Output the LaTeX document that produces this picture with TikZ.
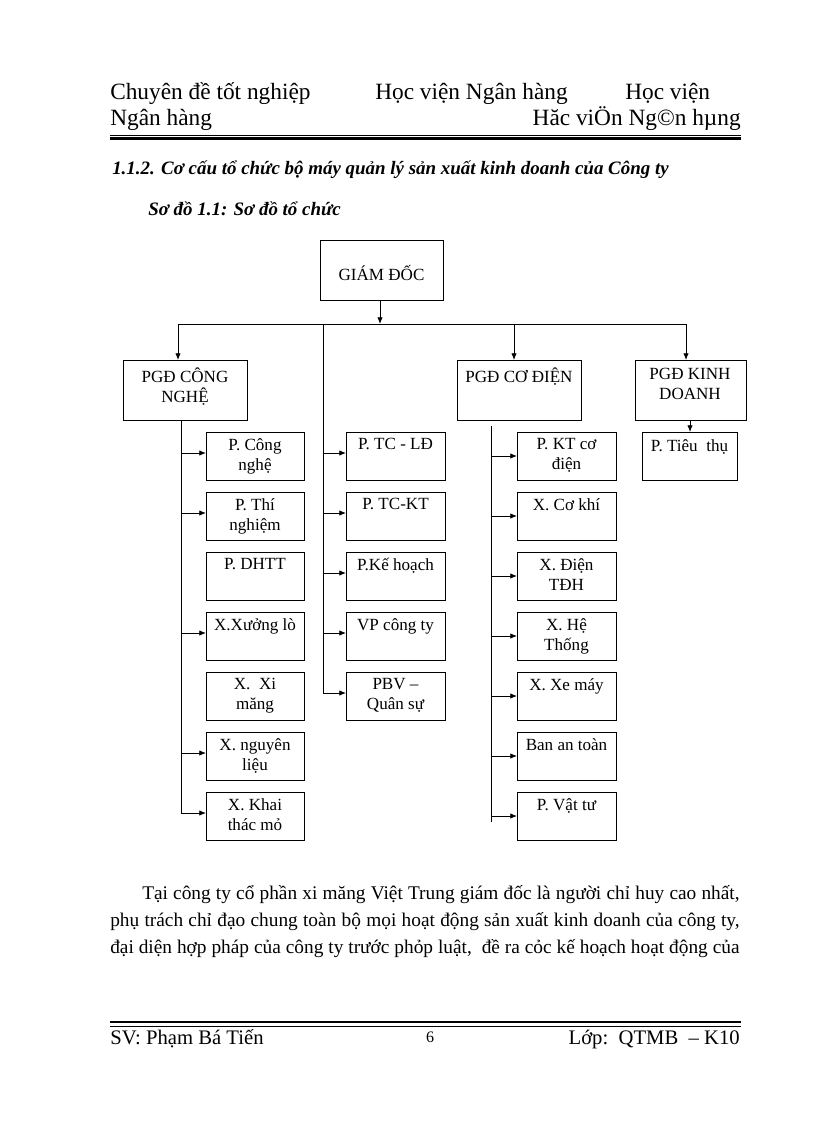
\documentclass[tikz,border=0pt]{standalone}
\usepackage{fontspec}
\setmainfont{Liberation Serif}
\usetikzlibrary{arrows.meta}
\begin{document}
\begin{tikzpicture}[x=0.75pt,y=-0.75pt,
  box/.style={draw,line width=0.6pt,fill=white},
  lbl/.style={anchor=north,align=center,font=\fontsize{12.8}{15}\selectfont,inner sep=0pt},
  ln/.style={line width=0.6pt},
  arr/.style={ln,-{Latex[length=5pt,width=4pt]}}]
\useasboundingbox (0,0) rectangle (816,1123);
% header
\node[anchor=base west,inner sep=0pt,font=\fontsize{17.5}{20}\selectfont] (h1) at (110,100) {Chuyên đề tốt nghiệp};
\node[anchor=base west,inner sep=0pt,font=\fontsize{17.5}{20}\selectfont] (h2) at (375,100) {Học viện Ngân hàng};
\node[anchor=base west,inner sep=0pt,font=\fontsize{17.5}{20}\selectfont] (h3) at (625,100) {Học viện};
\node[anchor=base west,inner sep=0pt,font=\fontsize{17.5}{20}\selectfont] (h4) at (110,126) {Ngân hàng};
\node[anchor=base east,inner sep=0pt,font=\fontsize{17.5}{20}\selectfont] (h5) at (741,126) {Hăc viÖn Ng©n hµng};
\coordinate (r1a) at (110,135); \coordinate (r1b) at (741,135);
\coordinate (r2a) at (110,138.5); \coordinate (r2b) at (741,138.5);
\draw[line width=0.5pt] (r1a)--(r1b);
\draw[line width=1.8pt] (r2a)--(r2b);
\node[anchor=base west,inner sep=0pt,font=\fontsize{14.2}{16}\selectfont\bfseries\itshape] (t1) at (112,175) {1.1.2. Cơ cấu tổ chức bộ máy quản lý sản xuất kinh doanh của Công ty};
\node[anchor=base west,inner sep=0pt,font=\fontsize{14.2}{16}\selectfont\bfseries\itshape] (t2) at (148,215) {Sơ đồ 1.1: Sơ đồ tổ chức};
% top
\draw[box] (320,240) rectangle (443,300);
\node[font=\fontsize{12.8}{15}\selectfont] (gd) at (381.5,273) {GIÁM ĐỐC};
\coordinate (gdb) at (380,300); \coordinate (gdj) at (380,324);
\draw[arr] (gdb)--(gdj);
\coordinate (hl) at (178,324); \coordinate (hr) at (686,324);
\draw[ln] (hl)--(hr);
% level 2
\draw[box] (123,360) rectangle (247,420); \node[lbl] (cn) at (185,368) {PGĐ CÔNG\\NGHỆ};
\draw[box] (457,360) rectangle (581,420); \node[lbl] (cd) at (519,368) {PGĐ CƠ ĐIỆN};
\draw[box] (635,360) rectangle (746,420); \node[lbl] (kd) at (690,368) {PGĐ KINH\\DOANH};
\coordinate (a1) at (178,360); \coordinate (a2) at (514,360); \coordinate (a3) at (686,360);
\coordinate (b2) at (514,324);
\draw[arr] (hl)--(a1); \draw[arr] (b2)--(a2); \draw[arr] (hr)--(a3);
\draw[box] (642,432) rectangle (737,480); \node[lbl] (tt) at (689.5,439) {P. Tiêu\ \ thụ};
\coordinate (kdb) at (690,420); \coordinate (ttt) at (690,432);
\draw[arr] (kdb)--(ttt);
% columns
\foreach \i/\t/\a in {0/{P. Công\\nghệ}/1,1/{P. Thí\\nghiệm}/1,2/{P. DHTT}/0,3/{X.Xưởng lò}/1,4/{X.\ \ Xi\\măng}/0,5/{X. nguyên\\liệu}/1,6/{X. Khai\\thác mỏ}/1}{
  \pgfmathsetmacro\yy{432+60*\i}
  \draw[box] (206,\yy) rectangle (304,\yy+48);
  \node[lbl] (l\i) at (255,\yy+6) {\t};
  \ifnum\a=1 \draw[arr] (181,\yy+21)--(206,\yy+21); \fi
}
\coordinate (lt) at (181,420); \coordinate (lb) at (181,813);
\draw[ln] (lt)--(lb);
\foreach \i/\t in {0/{P. TC - LĐ},1/{P. TC-KT},2/{P.Kế hoạch},3/{VP công ty},4/{PBV –\\Quân sự}}{
  \pgfmathsetmacro\yy{432+60*\i}
  \draw[box] (346,\yy) rectangle (445,\yy+48);
  \node[lbl] (m\i) at (395.5,\yy+6) {\t};
  \draw[arr] (323,\yy+21)--(346,\yy+21);
}
\coordinate (mt) at (323,324); \coordinate (mb) at (323,693);
\draw[ln] (mt)--(mb);
\foreach \i/\t in {0/{P. KT cơ\\điện},1/{X. Cơ khí},2/{X. Điện\\TĐH},3/{X. Hệ\\Thống},4/{X. Xe máy},5/{Ban an toàn},6/{P. Vật tư}}{
  \pgfmathsetmacro\yy{432+60*\i}
  \draw[box] (517,\yy) rectangle (616,\yy+48);
  \node[lbl] (r\i) at (566.5,\yy+6) {\t};
  \draw[arr] (491,\yy+24)--(517,\yy+24);
}
\coordinate (rt) at (491,426); \coordinate (rb) at (491,822);
\draw[ln] (rt)--(rb);
% paragraph
\node[anchor=north west,inner sep=0pt,text width=472pt,align=justify,font=\fontsize{14.5}{20.3}\selectfont] (para) at (110,885)
{\hspace*{24pt}Tại công ty cổ phần xi măng Việt Trung giám đốc là người chỉ huy cao nhất,\linebreak phụ trách chỉ đạo chung toàn bộ mọi hoạt động sản xuất kinh doanh của công ty,\linebreak đại diện hợp pháp của công ty trước phỏp luật,\ \ đề ra cỏc kế hoạch hoạt động của\linebreak};
% footer
\coordinate (f1a) at (110,1022); \coordinate (f1b) at (741,1022);
\coordinate (f2a) at (110,1026); \coordinate (f2b) at (741,1026);
\draw[line width=1.8pt] (f1a)--(f1b);
\draw[line width=0.5pt] (f2a)--(f2b);
\node[anchor=base west,inner sep=0pt,font=\fontsize{15.5}{18}\selectfont] (s1) at (110,1044) {SV: Phạm Bá Tiến};
\node[anchor=base,inner sep=0pt,font=\fontsize{12}{14}\selectfont] (s2) at (430,1042) {6};
\node[anchor=base east,inner sep=0pt,font=\fontsize{15.5}{18}\selectfont] (s3) at (740,1044) {Lớp:\ \ QTMB \ – K10};
\end{tikzpicture}
\end{document}
